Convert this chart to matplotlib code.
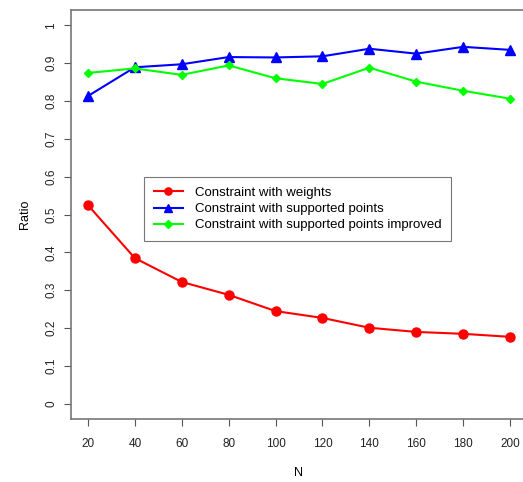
import matplotlib
matplotlib.use("Agg")
from matplotlib import pyplot as plt

N = [20, 40, 60, 80, 100, 120, 140, 160, 180, 200]
weights = [0.525, 0.385, 0.322, 0.288, 0.245, 0.227, 0.201, 0.190, 0.185, 0.177]
supported = [0.813, 0.889, 0.897, 0.916, 0.915, 0.918, 0.938, 0.925, 0.943, 0.935]
improved = [0.874, 0.886, 0.869, 0.894, 0.860, 0.845, 0.888, 0.851, 0.827, 0.806]
yticks = [0, 0.1, 0.2, 0.3, 0.4, 0.5, 0.6, 0.7, 0.8, 0.9, 1]
ytick_labels = ["0", "0.1", "0.2", "0.3", "0.4", "0.5", "0.6", "0.7", "0.8", "0.9", "1"]

plt.rcParams['font.family'] = ['Liberation Sans', 'DejaVu Sans']

fig = plt.figure(figsize=(5.23, 4.82), dpi=100)
ax = fig.add_axes([0.1358, 0.1307, 0.8718, 0.8483])

ax.plot(N, weights, color="#ff0000", marker="o", markersize=6.5, lw=1.5,
        label="Constraint with weights")
ax.plot(N, supported, color="#0000ff", marker="^", markersize=7.5, lw=1.5,
        label="Constraint with supported points")
ax.plot(N, improved, color="#00ff00", marker="D", markersize=4.5, lw=1.5,
        label="Constraint with supported points improved")

ax.set_xlim(12.8, 207.2)
ax.set_ylim(-0.04, 1.04)
ax.set_xticks(N)
ax.set_xticklabels([str(n) for n in N])
ax.set_yticks(yticks)
ax.set_yticklabels(ytick_labels, rotation=90, va="center")

for s in ax.spines.values():
    s.set_color("#777777")
    s.set_linewidth(1.2)
ax.tick_params(direction="out", length=5, color="#555555", labelsize=8.5,
               labelcolor="#222222")
ax.tick_params(axis="x", pad=9)
ax.tick_params(axis="y", pad=5)

ax.set_xlabel("N", fontsize=9, labelpad=12)
ax.set_ylabel("Ratio", fontsize=9, labelpad=10)

leg = ax.legend(loc="upper left", bbox_to_anchor=(0.16, 0.592), fontsize=9.5,
                frameon=True, fancybox=False, edgecolor="#555555",
                handlelength=2.2, handletextpad=0.9, borderpad=0.75,
                labelspacing=0.3, borderaxespad=0, markerscale=0.8)
leg.get_frame().set_linewidth(0.8)

fig.savefig("out.png", dpi=100)
